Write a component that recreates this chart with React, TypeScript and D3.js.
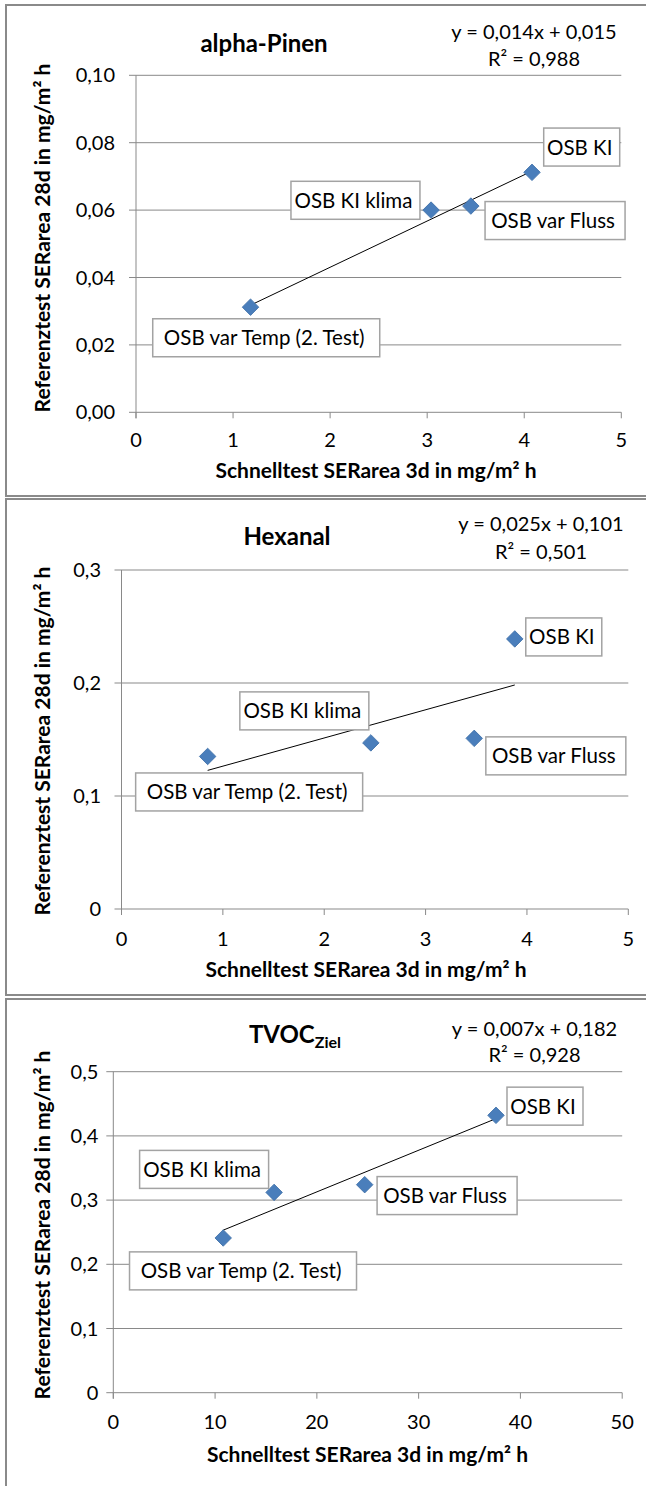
import React from "react";
import * as d3 from "d3";

// ---------- DATA ----------
const categories = ["OSB KI", "OSB KI klima", "OSB var Fluss", "OSB var Temp (2. Test)"];

const pinenX = [4.08, 3.04, 3.45, 1.18];
const pinenY = [0.0712, 0.06, 0.0612, 0.0312];
const hexanalX = [3.88, 2.46, 3.48, 0.85];
const hexanalY = [0.239, 0.147, 0.151, 0.135];
const tvocX = [37.6, 15.8, 24.7, 10.8];
const tvocY = [0.432, 0.312, 0.324, 0.241];

const pinenXTicks = [0, 1, 2, 3, 4, 5];
const pinenYTicks = [0, 0.02, 0.04, 0.06, 0.08, 0.1];
const hexanalXTicks = [0, 1, 2, 3, 4, 5];
const hexanalYTicks = [0, 0.1, 0.2, 0.3];
const tvocXTicks = [0, 10, 20, 30, 40, 50];
const tvocYTicks = [0, 0.1, 0.2, 0.3, 0.4, 0.5];

const titles = ["alpha-Pinen", "Hexanal", "TVOC"];
const titleSub = ["", "", "Ziel"];
const equations = ["y = 0,014x + 0,015", "y = 0,025x + 0,101", "y = 0,007x + 0,182"];
const rSquared = ["R² = 0,988", "R² = 0,501", "R² = 0,928"];
const xAxisTitle = "Schnelltest SERarea 3d in mg/m² h";
const yAxisTitle = "Referenztest SERarea 28d in mg/m² h";

// ---------- LAYOUT ----------
const FONT = "Lato, 'Open Sans', sans-serif";
const GRID = "#898989";
const BLUE = "#4a7ebb";

const de = d3.formatLocale({ decimal: ",", thousands: ".", grouping: [3], currency: ["", "€"] });

type Cfg = {
  xs: number[]; ys: number[]; xTicks: number[]; yTicks: number[]; yFmt: string;
  frameTop: number; frameBottom: number;
  left: number; right: number; top: number; bottom: number;
  yLabelGap: number; xTickBase: number; xTitleX: number; xTitleBase: number; yTitleY: number;
  titleX: number; titleBase: number; eqX: number; eqBase: number; rBase: number;
  labelOff: [number, number][];
};

const labelW = [76, 129, 140, 227];
const labelH = 38;

const panels: Cfg[] = [
  {
    xs: pinenX, ys: pinenY, xTicks: pinenXTicks, yTicks: pinenYTicks, yFmt: ".2f",
    frameTop: 5, frameBottom: 496, left: 136, right: 621.3, top: 75.3, bottom: 412.3,
    yLabelGap: 21, xTickBase: 447, xTitleX: 376, xTitleBase: 478, yTitleY: 238,
    titleX: 264, titleBase: 52, eqX: 534, eqBase: 39, rBase: 66,
    labelOff: [[49.7, -25.3], [-75.6, -9.8], [84.2, 14.5], [15.7, 30.6]],
  },
  {
    xs: hexanalX, ys: hexanalY, xTicks: hexanalXTicks, yTicks: hexanalYTicks, yFmt: "~g",
    frameTop: 499, frameBottom: 995, left: 121.5, right: 628.3, top: 570, bottom: 909,
    yLabelGap: 20.5, xTickBase: 946, xTitleX: 366, xTitleBase: 977, yTitleY: 741,
    titleX: 287, titleBase: 545, eqX: 541, eqBase: 530.5, rBase: 559,
    labelOff: [[49, -2], [-66.5, -32], [81.6, 17.5], [41.5, 35.5]],
  },
  {
    xs: tvocX, ys: tvocY, xTicks: tvocXTicks, yTicks: tvocYTicks, yFmt: "~g",
    frameTop: 999, frameBottom: 1500, left: 113.3, right: 622.2, top: 1071.7, bottom: 1392.7,
    yLabelGap: 15, xTickBase: 1429, xTitleX: 367.5, xTitleBase: 1461.5, yTitleY: 1225,
    titleX: 295, titleBase: 1043, eqX: 534.5, eqBase: 1035.5, rBase: 1061.5,
    labelOff: [[49, -9.2], [-70, -23], [82.4, 10.9], [19.8, 32.9]],
  },
];

function regression(xs: number[], ys: number[]) {
  const mx = d3.mean(xs) as number;
  const my = d3.mean(ys) as number;
  let sxy = 0, sxx = 0;
  xs.forEach((x, i) => { sxy += (x - mx) * (ys[i] - my); sxx += (x - mx) * (x - mx); });
  const slope = sxy / sxx;
  return { slope, intercept: my - slope * mx };
}

function Panel({ cfg, idx }: { cfg: Cfg; idx: number }) {
  const x = d3.scaleLinear().domain(d3.extent(cfg.xTicks) as [number, number]).range([cfg.left, cfg.right]);
  const y = d3.scaleLinear().domain(d3.extent(cfg.yTicks) as [number, number]).range([cfg.bottom, cfg.top]);
  const fmt = de.format(cfg.yFmt);
  const reg = regression(cfg.xs, cfg.ys);
  const [xmin, xmax] = d3.extent(cfg.xs) as [number, number];
  const line = d3.line<number>().x((v) => x(v)).y((v) => y(reg.slope * v + reg.intercept));
  const diamond = d3.symbol().type(d3.symbolSquare).size(136)();
  return (
    <g>
      <rect x={6} y={cfg.frameTop} width={660} height={cfg.frameBottom - cfg.frameTop} fill="#fff" stroke="#8a8a8a" strokeWidth={2} />
      {cfg.yTicks.map((t) => (
        <g key={"gy" + t}>
          <line x1={cfg.left - 7} x2={cfg.right} y1={y(t)} y2={y(t)} stroke={GRID} strokeWidth={1} />
          <text x={cfg.left - cfg.yLabelGap} y={y(t) + 7} textAnchor="end" fontSize={20} fontFamily={FONT} fill="#000">{fmt(t)}</text>
        </g>
      ))}
      <line x1={cfg.left} x2={cfg.left} y1={cfg.top} y2={cfg.bottom + 6} stroke={GRID} strokeWidth={1} />
      {cfg.xTicks.map((t) => (
        <g key={"gx" + t}>
          <line x1={x(t)} x2={x(t)} y1={cfg.bottom} y2={cfg.bottom + 6} stroke={GRID} strokeWidth={1} />
          <text x={x(t)} y={cfg.xTickBase} textAnchor="middle" fontSize={20} fontFamily={FONT} fill="#000">{t}</text>
        </g>
      ))}
      <path d={line([xmin, xmax]) as string} stroke="#000" strokeWidth={1} fill="none" />
      {cfg.xs.map((v, i) => (
        <path key={"m" + i} d={diamond as string} transform={`translate(${x(v)},${y(cfg.ys[i])}) rotate(45)`} fill={BLUE} stroke="#3d6fa8" strokeWidth={0.8} />
      ))}
      {cfg.xs.map((v, i) => {
        const cx = x(v) + cfg.labelOff[i][0];
        const cy = y(cfg.ys[i]) + cfg.labelOff[i][1];
        const w = labelW[i];
        return (
          <g key={"l" + i}>
            <rect x={cx - w / 2} y={cy - labelH / 2} width={w} height={labelH} fill="#fff" stroke="#a3a3a3" strokeWidth={1.5} />
            <text x={cx - 2} y={cy + 7.5} textAnchor="middle" fontSize={20.5} fontFamily={FONT} fill="#000">{categories[i]}</text>
          </g>
        );
      })}
      <text x={cfg.titleX} y={cfg.titleBase} textAnchor="middle" fontSize={24} fontWeight="bold" fontFamily={FONT} fill="#000">
        {titles[idx]}
        {titleSub[idx] ? <tspan fontSize={16} dy={5}>{titleSub[idx]}</tspan> : null}
      </text>
      <text x={cfg.eqX} y={cfg.eqBase} textAnchor="middle" fontSize={20} fontFamily={FONT} fill="#000">{equations[idx]}</text>
      <text x={cfg.eqX} y={cfg.rBase} textAnchor="middle" fontSize={20} fontFamily={FONT} fill="#000">{rSquared[idx]}</text>
      <text x={cfg.xTitleX} y={cfg.xTitleBase} textAnchor="middle" fontSize={21} fontWeight="bold" fontFamily={FONT} fill="#000">{xAxisTitle}</text>
      <text transform={`translate(50,${cfg.yTitleY}) rotate(-90)`} textAnchor="middle" fontSize={21} fontWeight="bold" fontFamily={FONT} fill="#000">{yAxisTitle}</text>
    </g>
  );
}

export default function App() {
  return (
    <svg width={646} height={1486} style={{ position: "absolute", left: 0, top: 0, background: "#fff" }}>
      <rect x={0} y={0} width={646} height={1486} fill="#fff" />
      {panels.map((p, i) => (
        <Panel key={i} cfg={p} idx={i} />
      ))}
    </svg>
  );
}
